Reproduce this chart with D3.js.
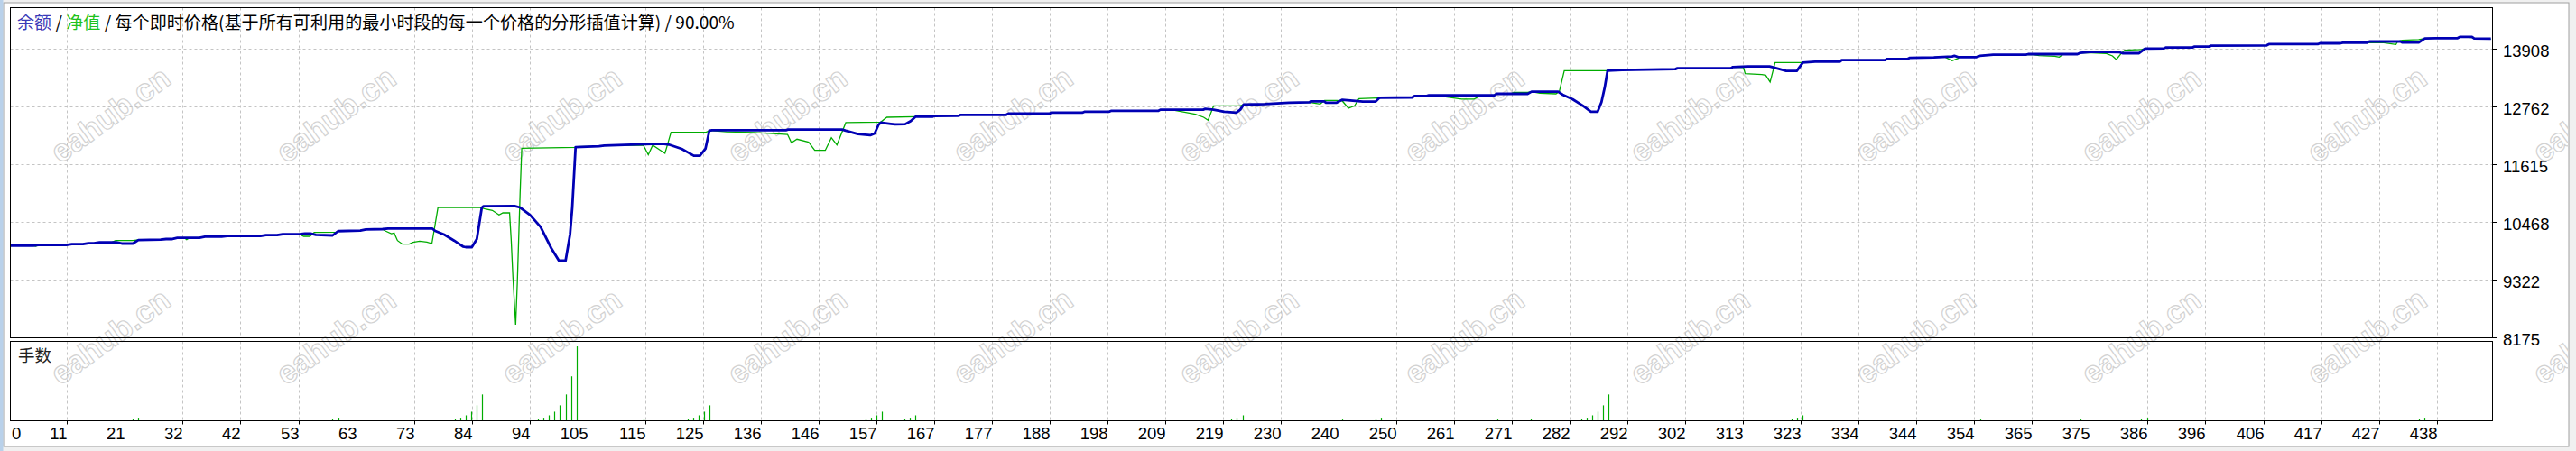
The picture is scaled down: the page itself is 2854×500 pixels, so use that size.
<!DOCTYPE html>
<html><head><meta charset="utf-8">
<script src="https://cdn.jsdelivr.net/npm/d3@7"></script>
<style>body{margin:0;background:#fff;overflow:hidden}svg{display:block}</style>
</head><body>
<svg id="c" width="2854" height="500"></svg>
<script>
// ---------- data ----------
const balance = [[0,10000],[5,10000],[6,10014],[11,10014],[12,10032],[14,10032],[15,10050],[16,10050],[17,10067],[20,10067],[21,10044],[23,10044],[24,10112],[28,10121],[29,10133],[30,10133],[31,10157],[35,10157],[36,10181],[39,10181],[40,10193],[46,10193],[47,10211],[49,10211],[50,10229],[53,10229],[54,10241],[55,10241],[56,10217],[59,10205],[60,10290],[64,10300],[65,10324],[68,10330],[69,10340],[77,10340],[77.5,10294],[79.1,10223],[80.9,10103],[82.5,9985],[83,9972],[84.1,9972],[85,10133],[85.9,10760],[86.2,10784],[91.8,10791],[92.8,10760],[94.6,10611],[96.5,10372],[98.4,9954],[99.8,9703],[101,9703],[101.8,10223],[102.2,10760],[102.8,11960],[107,11975],[108,11990],[115.2,12015],[118.5,12027],[119.6,12010],[121.9,11925],[124.1,11788],[125.2,11788],[126.2,11925],[126.9,12284],[127.4,12296],[140.8,12296],[141.1,12308],[150.8,12308],[151.5,12284],[153.7,12218],[155.9,12194],[156.7,12230],[157.4,12403],[157.8,12445],[159.6,12421],[160.4,12409],[162.2,12415],[163.2,12475],[164.1,12564],[167.1,12564],[167.4,12576],[171.8,12580],[172.2,12600],[180.4,12600],[180.8,12624],[188.2,12624],[188.5,12642],[194.1,12642],[194.5,12660],[198.9,12660],[199.3,12678],[207.8,12678],[208.2,12702],[215.9,12702],[216.3,12720],[217.8,12702],[219.7,12660],[221.9,12642],[222.6,12702],[223.2,12803],[227.1,12815],[231.4,12839],[235.1,12851],[235.3,12869],[237.7,12869],[238.1,12839],[239.9,12839],[241,12899],[242.9,12881],[244.7,12863],[247,12863],[247.7,12941],[253.6,12946],[254,12976],[256.2,12976],[256.6,12988],[268.4,12988],[268.8,13018],[274.4,13018],[275.1,13060],[279.9,13060],[280.7,13000],[282.5,12911],[284.4,12779],[285.8,12660],[287,12660],[287.7,12851],[288.3,13150],[288.8,13478],[291.4,13490],[301,13508],[301.4,13526],[311,13526],[311.4,13550],[314,13562],[318,13562],[318.8,13538],[321,13472],[322.9,13472],[324,13639],[326.2,13657],[330.7,13657],[331,13687],[338.8,13687],[339.2,13711],[342.9,13711],[343.3,13733],[347.6,13740],[350.9,13759],[351.3,13771],[352,13747],[355.3,13747],[355.9,13771],[358.3,13795],[364.2,13795],[364.6,13806],[373.5,13806],[374,13830],[376.1,13852],[380.9,13846],[381.6,13824],[384.6,13824],[385.7,13914],[389.1,13920],[389.4,13938],[394.2,13938],[394.6,13956],[397.2,13956],[397.6,13974],[407.6,13980],[408,14004],[416.8,14004],[417.2,14021],[420.9,14021],[421.3,14033],[425.7,14033],[426.1,14057],[431.7,14057],[432,14039],[435,14039],[436.1,14117],[438,14123],[442,14123],[442.4,14147],[444.6,14147],[445,14117],[448,14111]];

const equity = [[0,10000],[5,10000],[5.5,9990],[6,10014],[11,10014],[12,10032],[14,10032],[15,10050],[16,10050],[17,10067],[18.3,10067],[18.7,10044],[19.2,10067],[19.9,10103],[23,10103],[24,10115],[28,10121],[29,10133],[30,10133],[31,10157],[32.3,10157],[32.7,10121],[33.2,10157],[35,10157],[36,10181],[39,10181],[40,10193],[46,10193],[47,10211],[49,10211],[50,10229],[53,10229],[53.8,10187],[54.9,10187],[55.7,10265],[59.7,10270],[60,10290],[64,10300],[65,10324],[68,10330],[68.5,10294],[69.6,10240],[70.1,10252],[70.7,10103],[71.6,10031],[72.8,10031],[73.5,10067],[74.7,10091],[76,10073],[76.9,10043],[78,10760],[85.6,10760],[86.5,10730],[87.8,10701],[89,10611],[89.7,10653],[90.9,10653],[91.2,10103],[91.5,9386],[92,8431],[92.3,9268],[92.8,11048],[93.1,11937],[102.8,11955],[103,11965],[107,11975],[108,11990],[115,12000],[115.9,11806],[116.7,11997],[118.9,11836],[119.3,11985],[120,12254],[126.3,12254],[127,12290],[130,12262],[135,12250],[141,12210],[141.7,12045],[142.7,12116],[144.8,12056],[145.9,11895],[147.8,11895],[148.9,12146],[149.9,12003],[151.5,12445],[157.8,12457],[158.9,12552],[164.1,12564],[167.1,12564],[167.4,12576],[171.8,12580],[172.2,12600],[180.4,12600],[180.8,12624],[188.2,12624],[188.5,12642],[194.1,12642],[194.5,12660],[198.9,12660],[199.3,12678],[207.8,12678],[208.2,12702],[210.8,12690],[214.5,12612],[216,12552],[216.8,12493],[217.8,12779],[222.6,12779],[223.2,12803],[227.1,12815],[231.4,12839],[235.1,12851],[236,12830],[237,12815],[237.8,12887],[240,12887],[241,12875],[242.1,12731],[243.2,12779],[244,12923],[247.7,12935],[248.4,12946],[253.6,12946],[254,12976],[256.2,12976],[256.6,12988],[259.6,12958],[262.5,12911],[264.7,12911],[265.5,12958],[266.5,12988],[268.4,12988],[268.8,13018],[271.5,13030],[272,13048],[274.4,13048],[275.1,13060],[276.6,13030],[279.5,13018],[280.1,13060],[281,13478],[288.8,13478],[291.4,13490],[301,13508],[301.4,13526],[311,13526],[311.4,13550],[313.3,13538],[313.6,13418],[316.6,13400],[317.3,13388],[318.1,13251],[319,13639],[323.6,13639],[324,13639],[326.2,13657],[330.7,13657],[331,13687],[338.8,13687],[339.2,13711],[342.9,13711],[343.3,13733],[347.6,13740],[349.4,13759],[350.9,13675],[352,13723],[352.2,13759],[355.3,13759],[355.9,13771],[358.3,13795],[365.5,13795],[366.6,13777],[369.4,13765],[370.2,13747],[370.9,13800],[373.5,13806],[374,13830],[376.1,13830],[378.7,13818],[379.8,13771],[380.5,13699],[381.2,13795],[382,13884],[385,13896],[385.7,13914],[389.1,13920],[389.4,13938],[394.2,13938],[394.6,13956],[397.2,13956],[397.6,13974],[407.6,13980],[408,14004],[416.8,14004],[417.2,14021],[420.9,14021],[421.3,14033],[428.7,14033],[430.9,13997],[431.2,14057],[432,14081],[435,14093],[436.1,14117],[438,14123],[442,14123],[442.4,14147],[444.6,14135],[445,14111],[448,14105]];

const lotTrades = [23,24,59,60,81,82,83,84,85,86,96,97,98,99,100,101,102,103,115,123,124,125,126,127,155,156,157,158,162,163,164,221,222,223,241,247,248,269,275,284,285,286,287,288,289,322,323,324,356,374,385,386,435,436];
const lotValues = [0.1,0.17,0.1,0.17,0.1,0.17,0.3,0.5,0.85,1.45,0.1,0.17,0.3,0.5,0.85,1.45,2.45,4.1,0.1,0.1,0.17,0.3,0.5,0.85,0.1,0.17,0.3,0.5,0.1,0.17,0.3,0.1,0.17,0.3,0.07,0.1,0.17,0.07,0.1,0.1,0.17,0.3,0.5,0.85,1.45,0.1,0.17,0.3,0.07,0.07,0.1,0.17,0.1,0.17];

const yTicks = [13908,12762,11615,10468,9322,8175];
const xTickLabels = [0,11,21,32,42,53,63,73,84,94,105,115,125,136,146,157,167,177,188,198,209,219,230,240,250,261,271,282,292,302,313,323,334,344,354,365,375,386,396,406,417,427,438];

const titleParts = [["余额","#3a3ab8"],[" / ","#000"],["净值","#1ec21e"],[" / 每个即时价格(基于所有可利用的最小时段的每一个价格的分形插值计算) / 90.00%","#000"]];
const lotsLabel = "手数";
const watermark = "eahub.cn";

// ---------- layout ----------
const L = 11.5, R = 2761.5, T = 8.5, B = 374.5, ST = 378.5, SB = 466.5;
const svg = d3.select("#c");
const x = d3.scaleLinear().domain([0, 448.3]).range([5.8, R]);
const y = d3.scaleLinear().domain([8175, 13908]).range([374.3, 54.3]);
const grid = d3.scaleLinear().domain([1, 42]).range([74.4, 2699.6]);
const lotY = d3.scaleLinear().domain([0, 4.35]).range([SB, 379]);
const font = "Tahoma, 'Liberation Sans', 'DejaVu Sans', sans-serif";
const cjk = "'Noto Sans CJK SC', sans-serif";

// window chrome
svg.append("rect").attr("x",0).attr("y",0).attr("width",2854).attr("height",500).attr("fill","#f0f0f0");
svg.append("rect").attr("x",4).attr("y",3).attr("width",2842).attr("height",492).attr("fill","#fff").attr("stroke","#a0a0a0");
svg.append("rect").attr("x",0).attr("y",0).attr("width",3.5).attr("height",500).attr("fill","#b9d1ea");

// watermark (behind), clipped to the window
svg.append("clipPath").attr("id","wc").append("rect").attr("x",4).attr("y",3).attr("width",2842).attr("height",492);
const wm = svg.append("g").attr("clip-path","url(#wc)");
for (let row of [127, 373]) {
  for (let k = 0; k < 12; k++) {
    wm.append("text").attr("transform", `translate(${122 + 250*k},${row}) rotate(-36)`)
      .attr("text-anchor","middle").attr("dy","0.35em")
      .attr("font-family","'Liberation Sans', Arial, sans-serif").attr("font-weight","bold")
      .attr("font-size",35).attr("fill","none").attr("stroke","#d2d2d2").attr("stroke-width",1.2)
      .text(watermark);
  }
}

// grid
const gx = d3.range(1, xTickLabels.length);
const g = svg.append("g").attr("stroke","#c4c4c4").attr("stroke-dasharray","3,3").attr("stroke-width",1);
gx.forEach(k => {
  const xx = Math.round(grid(k)) + 0.5;
  g.append("line").attr("x1",xx).attr("x2",xx).attr("y1",T).attr("y2",B);
  g.append("line").attr("x1",xx).attr("x2",xx).attr("y1",ST).attr("y2",SB);
});
yTicks.slice(0,5).forEach(v => {
  const yy = Math.round(y(v)) + 0.5;
  g.append("line").attr("x1",L).attr("x2",R).attr("y1",yy).attr("y2",yy);
});

// lines
svg.append("clipPath").attr("id","mc").append("rect").attr("x",L+0.5).attr("y",T+0.5).attr("width",R-L-1).attr("height",B-T-1);
const line = d3.line().x(d => x(d[0])).y(d => y(d[1]));
svg.append("path").datum(equity).attr("clip-path","url(#mc)").attr("d",line)
  .attr("fill","none").attr("stroke","#00ac00").attr("stroke-width",1.3);
svg.append("path").datum(balance).attr("clip-path","url(#mc)").attr("d",line)
  .attr("fill","none").attr("stroke","#0000b4").attr("stroke-width",2.8).attr("stroke-linejoin","round");

// lots bars
svg.append("g").selectAll("line").data(lotTrades).join("line")
  .attr("x1",(d)=>Math.round(x(d))+0.5).attr("x2",(d)=>Math.round(x(d))+0.5)
  .attr("y1",SB).attr("y2",(d,i)=>lotY(lotValues[i]))
  .attr("stroke","#00ac00").attr("stroke-width",1.2);

// frames
svg.append("rect").attr("x",L).attr("y",T).attr("width",R-L).attr("height",B-T).attr("fill","none").attr("stroke","#000");
svg.append("rect").attr("x",L).attr("y",ST).attr("width",R-L).attr("height",SB-ST).attr("fill","none").attr("stroke","#000");

// right axis
const ra = svg.append("g");
yTicks.forEach(v => {
  const yy = Math.round(y(v)) + 0.5;
  ra.append("line").attr("x1",R).attr("x2",R+5).attr("y1",yy).attr("y2",yy).attr("stroke","#000");
  ra.append("text").attr("x",2773).attr("y",yy+2).attr("dy","0.35em")
    .attr("font-family",font).attr("font-size",18.5).attr("fill","#000").text(v);
});

// bottom axis
const ba = svg.append("g");
xTickLabels.forEach((lab, k) => {
  if (k === 0) {
    ba.append("text").attr("x",L+1.5).attr("y",487).attr("font-family",font).attr("font-size",18.5).text(lab);
    return;
  }
  const xx = Math.round(grid(k)) + 0.5;
  ba.append("line").attr("x1",xx).attr("x2",xx).attr("y1",SB).attr("y2",SB+4).attr("stroke","#000");
  ba.append("text").attr("x",xx).attr("y",487).attr("text-anchor","end")
    .attr("font-family",font).attr("font-size",18.5).attr("fill","#000").text(lab);
});

// title
const tt = svg.append("text").attr("x",19).attr("y",25).attr("dy","0.35em").attr("font-size",19.1).attr("font-family",cjk);
titleParts.forEach(p => tt.append("tspan").attr("fill",p[1]).text(p[0]));

// lots label
svg.append("text").attr("x",20).attr("y",395).attr("dy","0.35em").attr("font-size",18.5).attr("font-family",cjk).attr("fill","#222").text(lotsLabel);
</script>
</body></html>
